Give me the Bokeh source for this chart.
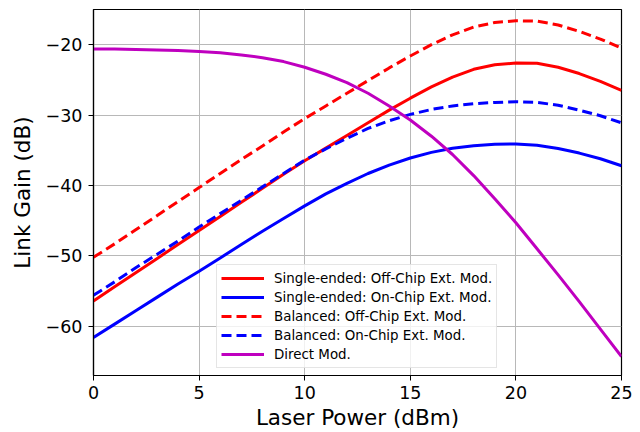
from bokeh.plotting import figure
from bokeh.models import Range1d, FixedTicker, Legend, LegendItem
from bokeh.embed import file_html
from bokeh.resources import INLINE

laser_power = list(range(0, 26))

se_off_chip = [-56.4, -54.4, -52.4, -50.4, -48.4, -46.4, -44.4, -42.4, -40.4, -38.4,
               -36.5, -34.7, -32.9, -31.1, -29.3, -27.6, -26.0, -24.6, -23.5, -22.85,
               -22.6, -22.65, -23.2, -24.1, -25.2, -26.5]
se_on_chip = [-61.6, -59.7, -57.8, -55.9, -54.0, -52.2, -50.3, -48.4, -46.5, -44.7,
              -42.9, -41.2, -39.7, -38.3, -37.1, -36.1, -35.3, -34.7, -34.35, -34.15,
              -34.1, -34.3, -34.75, -35.4, -36.2, -37.2]
bal_off_chip = [-50.2, -48.3, -46.3, -44.3, -42.3, -40.3, -38.3, -36.3, -34.4, -32.4,
                -30.5, -28.7, -26.9, -25.1, -23.3, -21.6, -20.0, -18.6, -17.5, -16.85,
                -16.6, -16.65, -17.2, -18.1, -19.2, -20.5]
bal_on_chip = [-55.6, -53.7, -51.7, -49.8, -47.9, -45.9, -44.0, -42.1, -40.2, -38.3,
               -36.4, -34.8, -33.3, -31.9, -30.8, -29.9, -29.2, -28.7, -28.4, -28.2,
               -28.1, -28.2, -28.6, -29.3, -30.1, -31.1]
direct_mod = [-20.6, -20.62, -20.67, -20.74, -20.83, -20.95, -21.15, -21.45, -21.85, -22.4,
              -23.2, -24.2, -25.4, -26.9, -28.7, -30.7, -33.0, -35.6, -38.6, -41.9,
              -45.3, -49.0, -52.7, -56.5, -60.4, -64.3]

labels = ["Single-ended: Off-Chip Ext. Mod.", "Single-ended: On-Chip Ext. Mod.",
          "Balanced: Off-Chip Ext. Mod.", "Balanced: On-Chip Ext. Mod.", "Direct Mod."]
x_ticks = [0, 5, 10, 15, 20, 25]
y_ticks = [-60, -50, -40, -30, -20]

FONT = "DejaVu Sans"

p = figure(width=640, height=432, output_backend="svg", toolbar_location=None,
           x_range=Range1d(0, 25), y_range=Range1d(-67.0, -15.0),
           min_border_left=93, min_border_right=19, min_border_top=9, min_border_bottom=56)

p.background_fill_color = "white"
p.border_fill_color = "white"
p.outline_line_color = "black"
p.outline_line_width = 1.2

for g in (p.xgrid, p.ygrid):
    g.grid_line_color = "#b8b8b8"
    g.grid_line_width = 1

p.xaxis.ticker = FixedTicker(ticks=x_ticks)
p.yaxis.ticker = FixedTicker(ticks=y_ticks)
p.yaxis.major_label_overrides = {t: "\u2212" + str(abs(t)) for t in y_ticks}

for ax in (p.xaxis[0], p.yaxis[0]):
    ax.axis_line_color = "black"
    ax.axis_line_width = 1.2
    ax.major_tick_line_color = "black"
    ax.major_tick_out = 5
    ax.major_tick_in = 0
    ax.minor_tick_line_color = None
    ax.major_label_text_font = FONT
    ax.major_label_text_font_size = "17.5px"
    ax.major_label_text_color = "black"
    ax.axis_label_text_font = FONT
    ax.axis_label_text_font_size = "21.5px"
    ax.axis_label_text_font_style = "normal"
    ax.axis_label_text_color = "black"

p.xaxis.axis_label = "Laser Power (dBm)"
p.yaxis.axis_label = "Link Gain (dB)"
p.xaxis.major_label_standoff = 5
p.xaxis.axis_label_standoff = 3
p.yaxis.major_label_standoff = 6
p.yaxis.axis_label_standoff = 8

series = [
    (se_off_chip, "#ff0000", "solid"),
    (se_on_chip, "#0000ff", "solid"),
    (bal_off_chip, "#ff0000", "10 5"),
    (bal_on_chip, "#0000ff", "10 5"),
    (direct_mod, "#bf00bf", "solid"),
]

items = []
for (ys, color, dash), lab in zip(series, labels):
    r = p.line(laser_power, ys, line_color=color, line_width=3, line_dash=dash)
    items.append(LegendItem(label=lab, renderers=[r]))

legend = Legend(items=items, location=(123, 7))
legend.label_text_font = FONT
legend.label_text_font_size = "13.4px"
legend.label_text_color = "black"
legend.glyph_width = 43
legend.glyph_height = 18
legend.label_height = 18
legend.spacing = 1
legend.padding = 4
legend.margin = 0
legend.label_standoff = 10
legend.border_line_color = "#cccccc"
legend.border_line_width = 1
legend.background_fill_color = "white"
legend.background_fill_alpha = 0.8
p.add_layout(legend, "center")

open("out.html", "w").write(file_html(p, INLINE))
